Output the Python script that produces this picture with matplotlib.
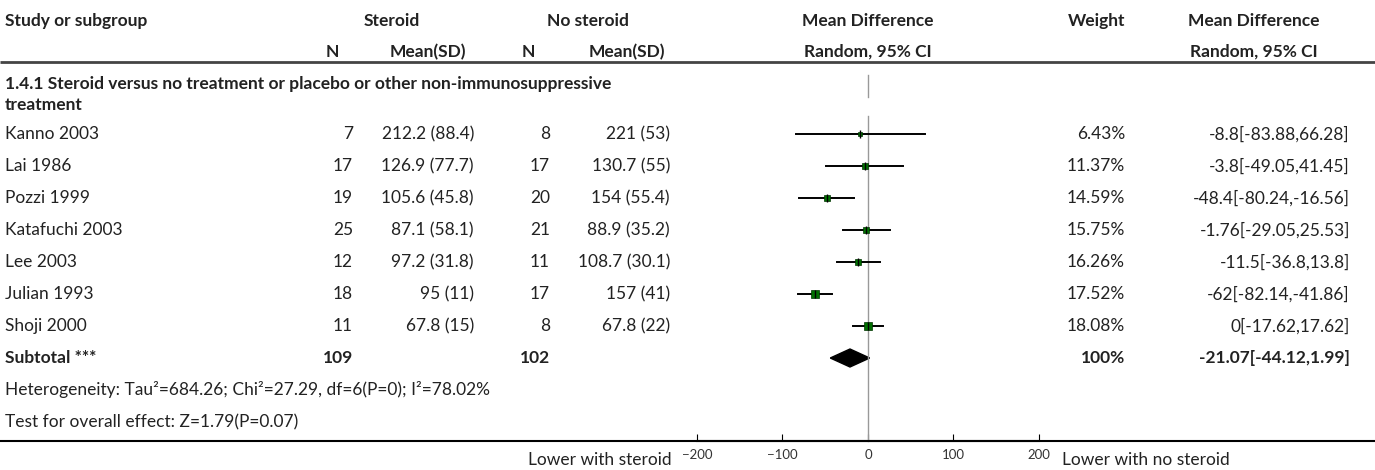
import matplotlib.pyplot as plt
from matplotlib.patches import Polygon

plt.rcParams["font.family"] = ["Lato", "DejaVu Sans"]

# study data
studies = ["Kanno 2003", "Lai 1986", "Pozzi 1999", "Katafuchi 2003",
           "Lee 2003", "Julian 1993", "Shoji 2000"]
n_steroid = [7, 17, 19, 25, 12, 18, 11]
mean_steroid = [212.2, 126.9, 105.6, 87.1, 97.2, 95, 67.8]
sd_steroid = [88.4, 77.7, 45.8, 58.1, 31.8, 11, 15]
n_control = [8, 17, 20, 21, 11, 17, 8]
mean_control = [221, 130.7, 154, 88.9, 108.7, 157, 67.8]
sd_control = [53, 55, 55.4, 35.2, 30.1, 41, 22]
weights = [6.43, 11.37, 14.59, 15.75, 16.26, 17.52, 18.08]
md = [-8.8, -3.8, -48.4, -1.76, -11.5, -62, 0]
ci_low = [-83.88, -49.05, -80.24, -29.05, -36.8, -82.14, -17.62]
ci_high = [66.28, 41.45, -16.56, 25.53, 13.8, -41.86, 17.62]

total_n_steroid = 109
total_n_control = 102
total_md = -21.07
total_low = -44.12
total_high = 1.99

subgroup = ["1.4.1 Steroid versus no treatment or placebo or other non-immunosuppressive",
            "treatment"]
heterogeneity = "Heterogeneity: Tau²=684.26; Chi²=27.29, df=6(P=0); I²=78.02%"
overall = "Test for overall effect: Z=1.79(P=0.07)"
xticks = [-200, -100, 0, 100, 200]


def fmt(v):
    return "%g" % v


W, H = 1375, 470
fig = plt.figure(figsize=(W / 100, H / 100), dpi=100)
ax = fig.add_axes([0, 0, 1, 1])
ax.set_xlim(0, W)
ax.set_ylim(H, 0)
ax.axis("off")

# forest panel shares pixel rows with the table
x0, x1 = 697, 1039
fx = fig.add_axes([x0 / W, 0, (x1 - x0) / W, 1])
fx.set_xlim(-200, 200)
fx.set_ylim(H, 0)
fx.patch.set_visible(False)
for s in ["top", "left", "right"]:
    fx.spines[s].set_visible(False)
fx.spines["bottom"].set_position(("data", 441))
fx.spines["bottom"].set_linewidth(1.5)
fx.set_yticks([])
fx.set_xticks(xticks)
fx.tick_params(axis="x", direction="in", length=5, labelsize=9.5,
               labelcolor="#333333", pad=6)

tc = "#222222"
fs = 12.5

# headers
hdr = dict(fontsize=fs, fontweight="bold", color=tc, va="center")
ax.text(5, 21, "Study or subgroup", ha="left", **hdr)
ax.text(392, 21, "Steroid", ha="center", **hdr)
ax.text(588, 21, "No steroid", ha="center", **hdr)
ax.text(868, 21, "Mean Difference", ha="center", **hdr)
ax.text(1125, 21, "Weight", ha="right", **hdr)
ax.text(1254, 21, "Mean Difference", ha="center", **hdr)
ax.text(332, 52, "N", ha="center", **hdr)
ax.text(428, 52, "Mean(SD)", ha="center", **hdr)
ax.text(528, 52, "N", ha="center", **hdr)
ax.text(627, 52, "Mean(SD)", ha="center", **hdr)
ax.text(868, 52, "Random, 95% CI", ha="center", **hdr)
ax.text(1254, 52, "Random, 95% CI", ha="center", **hdr)
ax.plot([0, W], [62, 62], color="#444444", lw=2, solid_capstyle="butt")

for k, line in enumerate(subgroup):
    ax.text(5, 84 + 21 * k, line, ha="left", va="center", fontsize=fs,
            fontweight="bold", color=tc)

# vertical line of no effect
fx.plot([0, 0], [75, 97], color="#999999", lw=1)
fx.plot([0, 0], [116, 441], color="#999999", lw=1)

row0, step = 134, 32
body = dict(fontsize=fs, color=tc, va="center")
for i, name in enumerate(studies):
    y = row0 + i * step
    ax.text(5, y, name, ha="left", **body)
    ax.text(353, y, str(n_steroid[i]), ha="right", **body)
    ax.text(474, y, f"{fmt(mean_steroid[i])} ({fmt(sd_steroid[i])})", ha="right", **body)
    ax.text(550, y, str(n_control[i]), ha="right", **body)
    ax.text(670, y, f"{fmt(mean_control[i])} ({fmt(sd_control[i])})", ha="right", **body)
    ax.text(1125, y, f"{weights[i]:.2f}%", ha="right", **body)
    ax.text(1350, y, f"{fmt(md[i])}[{fmt(ci_low[i])},{fmt(ci_high[i])}]", ha="right", **body)
    fx.plot([ci_low[i], ci_high[i]], [y, y], color="black", lw=1.4)
    fx.plot(md[i], y, "s", color="#006f00", mec="#003300", mew=0.5,
            ms=2.5 + weights[i] * 0.15)
    fx.plot(md[i], y, "|", color="black", ms=6, mew=1)

ys = row0 + len(studies) * step
bold = dict(fontsize=fs, color=tc, va="center", fontweight="bold")
ax.text(5, ys, "Subtotal ***", ha="left", **bold)
ax.text(353, ys, str(total_n_steroid), ha="right", **bold)
ax.text(550, ys, str(total_n_control), ha="right", **bold)
ax.text(1125, ys, "100%", ha="right", **bold)
ax.text(1350, ys, f"{fmt(total_md)}[{fmt(total_low)},{fmt(total_high)}]", ha="right", **bold)
fx.add_patch(Polygon([[total_low, ys], [total_md, ys - 9],
                      [total_high, ys], [total_md, ys + 9]],
                     closed=True, color="black"))

ax.text(5, ys + step, heterogeneity, ha="left", **body)
ax.text(5, ys + 2 * step, overall, ha="left", **body)

ax.plot([0, W], [441, 441], color="black", lw=1.5, solid_capstyle="butt")
ax.text(672, 460, "Lower with steroid", ha="right", **body)
ax.text(1062, 460, "Lower with no steroid", ha="left", **body)

fig.savefig("out.png", dpi=100)
